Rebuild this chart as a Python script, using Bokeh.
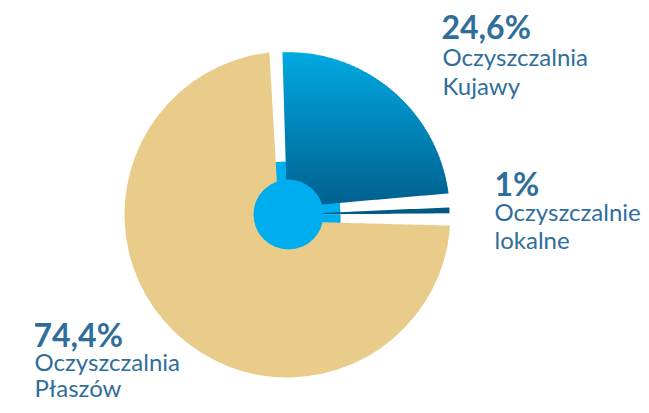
import numpy as np
from bokeh.plotting import figure
from bokeh.models import Range1d
from bokeh.core.properties import value
from bokeh.embed import file_html
from bokeh.resources import INLINE

# ---- data ----
categories = ["Oczyszczalnia Kujawy", "Oczyszczalnie lokalne", "Oczyszczalnia Płaszów"]
shares = [24.6, 1.0, 74.4]
pct_labels = ["24,6%", "1%", "74,4%"]
name_lines = [["Oczyszczalnia", "Kujawy"], ["Oczyszczalnie", "lokalne"], ["Oczyszczalnia", "Płaszów"]]

# ---- style / layout ----
W, H = 641, 405
TAN = "#E9CB8A"
LIGHT = "#00AEEF"
DARK = "#005A85"
GRAD_TOP = (0, 169, 225)
GRAD_BOT = (0, 92, 138)
LABEL = "#2F6E9B"
FONT = "Lato"
BASELINE_FIX = 12

def sx(x):
    return x

def sy(y):
    return H - y

cx, cy = sx(287), sy(214)
R = 162
start_deg = 92.5

p = figure(width=W, height=H, x_range=Range1d(0, W), y_range=Range1d(0, H),
           output_backend="svg", toolbar_location=None, min_border=0,
           x_axis_type=None, y_axis_type=None)
p.grid.visible = False
p.outline_line_color = None
p.background_fill_color = "white"
p.border_fill_color = "white"

bounds = [start_deg]
for v in shares:
    bounds.append(bounds[-1] - 360.0 * v / 100.0)
rad = np.radians

# big slice (Płaszów)
p.wedge(x=[cx], y=[cy], radius=R + 1, start_angle=rad(bounds[3]), end_angle=rad(bounds[2]),
        direction="anticlock", fill_color=TAN, line_color=None)
# small slice (lokalne)
p.wedge(x=[cx], y=[cy], radius=R, start_angle=rad(bounds[2]), end_angle=rad(bounds[1]),
        direction="anticlock", fill_color=DARK, line_color=None)

# Kujawy slice with vertical gradient (drawn as horizontal strips)
def clip(poly, y0, keep_above):
    out = []
    n = len(poly)
    for i in range(n):
        P = poly[i]
        Q = poly[(i + 1) % n]
        inP = P[1] >= y0 if keep_above else P[1] <= y0
        inQ = Q[1] >= y0 if keep_above else Q[1] <= y0
        if inQ:
            if not inP:
                t = (y0 - P[1]) / (Q[1] - P[1])
                out.append((P[0] + t * (Q[0] - P[0]), y0))
            out.append(Q)
        elif inP:
            t = (y0 - P[1]) / (Q[1] - P[1])
            out.append((P[0] + t * (Q[0] - P[0]), y0))
    return out

arc = np.linspace(rad(bounds[1]), rad(bounds[0]), 120)
sector = [(cx, cy)] + [(cx + R * np.cos(a), cy + R * np.sin(a)) for a in arc]
ys = [pt[1] for pt in sector]
ylo, yhi = min(ys), max(ys)
nstrips = 80
edges = np.linspace(ylo, yhi, nstrips + 1)
xs_list, ys_list, cols = [], [], []
for i in range(nstrips):
    a, b = edges[i] - 0.4, edges[i + 1] + 0.4
    poly = clip(clip(sector, a, True), b, False)
    if len(poly) < 3:
        continue
    t = ((edges[i] + edges[i + 1]) / 2 - ylo) / (yhi - ylo)
    c = tuple(int(round(GRAD_BOT[k] + (GRAD_TOP[k] - GRAD_BOT[k]) * t)) for k in range(3))
    xs_list.append([q[0] for q in poly])
    ys_list.append([q[1] for q in poly])
    cols.append("#%02x%02x%02x" % c)
p.patches(xs=xs_list, ys=ys_list, fill_color=cols, line_color=cols, line_width=0.6)

# gaps between slices
def band(theta_deg, s_lo, s_hi, n_sign, r0, r1):
    th = rad(theta_deg)
    u = np.array([np.cos(th), np.sin(th)])
    nvec = n_sign * np.array([-np.sin(th), np.cos(th)])
    rs = np.linspace(r0, r1, 24)
    left = [(cx + r * u[0] + s_lo(r) * nvec[0], cy + r * u[1] + s_lo(r) * nvec[1]) for r in rs]
    right = [(cx + r * u[0] + s_hi(r) * nvec[0], cy + r * u[1] + s_hi(r) * nvec[1]) for r in rs]
    poly = left + right[::-1]
    return [q[0] for q in poly], [q[1] for q in poly]

g0 = lambda r: 8.5 + 0.028 * r
g1 = lambda r: 7.0 + 0.0435 * r
ov1 = lambda r: 0.025 * r
g2 = lambda r: 6.85 + 0.032 * r

specs = [
    (bounds[0], lambda r: -g0(r) / 2 + 4.5, lambda r: g0(r) / 2 + 4.5, 1),
    (bounds[1], lambda r: -ov1(r), lambda r: g1(r) - ov1(r), 1),
    (bounds[2], lambda r: 0.0, lambda r: g2(r), -1),
]
for (rin, rout, col) in [(52.5, R + 15, "white"), (0, 53, LIGHT)]:
    bx, by = [], []
    for th, lo, hi, sg in specs:
        xx, yy = band(th, lo, hi, sg, rin, rout)
        bx.append(xx)
        by.append(yy)
    p.patches(xs=bx, ys=by, fill_color=col, line_color=None)

# centre disc
p.circle(x=[cx + 1], y=[cy], radius=35, fill_color=LIGHT, line_color=None)

# ---- labels ----
label_pos = [(441, 38), (494, 195), (33, 346)]
name_dx = [1, 0, 1]
line_gap = [29.5, 28, 26.5]
px, py, pt = [], [], []
nx, ny, nt = [], [], []
for i in range(len(shares)):
    x0, y0 = label_pos[i]
    px.append(sx(x0))
    py.append(sy(y0 - BASELINE_FIX))
    pt.append(pct_labels[i])
    for j, line in enumerate(name_lines[i]):
        nx.append(sx(x0 + name_dx[i]))
        ny.append(sy(y0 + line_gap[i] * (j + 1) - BASELINE_FIX))
        nt.append(line)
p.text(x=px, y=py, text=pt, text_font=value(FONT), text_font_style="bold",
       text_font_size="32px", text_color=LABEL, text_baseline="alphabetic", text_align="left")
p.text(x=nx, y=ny, text=nt, text_font=value(FONT), text_font_style="normal",
       text_font_size="24px", text_color=LABEL, text_baseline="alphabetic", text_align="left")

open("out.html", "w").write(file_html(p, INLINE))
